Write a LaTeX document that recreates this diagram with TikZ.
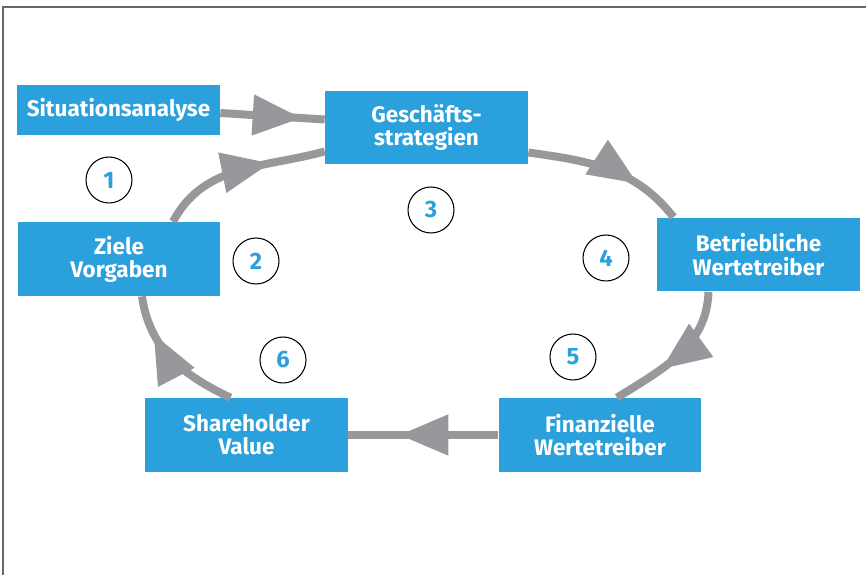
\documentclass[tikz,border=0pt]{standalone}
\usepackage{fontspec}
\setmainfont{Fira Sans}
\usetikzlibrary{arrows.meta,decorations.markings}
\definecolor{boxblue}{RGB}{42,160,221}
\definecolor{arrowgray}{RGB}{152,152,156}
\definecolor{framegray}{RGB}{110,100,100}
\begin{document}
\begin{tikzpicture}[x=0.02cm,y=0.02cm,
  box/.style={fill=boxblue, text=white, font=\bfseries\fontsize{12.8}{13.2}\selectfont,
    align=center, minimum width=4.06cm, minimum height=1.48cm, inner sep=0pt},
  num/.style={draw, circle, line width=0.6pt, minimum size=0.92cm, inner sep=0pt,
    text=boxblue, font=\bfseries\fontsize{13.5}{14}\selectfont},
  cyc/.style={draw=arrowgray, line width=0.16cm, postaction={decorate},
    decoration={markings, mark=at position #1 with
      {\arrow[arrowgray]{Triangle[length=0.98cm, width=0.78cm]}}}},
  cyc/.default=0.7]
\useasboundingbox (0,0) rectangle (866,575);
\draw[framegray, line width=1.2pt] (3,0) -- (3,568) -- (866,568);

\node (sit) at (118.5,465) [box, minimum height=1cm] {Situationsanalyse};
\node (ges) at (426.5,447.5) [box] {Geschäfts-\\strategien};
\node (ziele) at (119,316) [box] {Ziele\\Vorgaben};
\node (betr) at (758.5,320.5) [box] {Betriebliche\\Wertetreiber};
\node (share) at (246.5,140) [box] {Shareholder\\Value};
\node (fin) at (600,140) [box] {Finanzielle\\Wertetreiber};

\node (c1) at (109,395) [num] {1};
\node (c2) at (256,314) [num] {2};
\node (c3) at (431,365) [num] {3};
\node (c4) at (606,317) [num] {4};
\node (c5) at (573,218) [num] {5};
\node (c6) at (283,215) [num] {6};

\draw[cyc=0.78] ([shift={(0,-3)}]sit.east) to ([shift={(0,8)}]ges.west);
\draw[cyc=0.68] ([shift={(54,0)}]ziele.north) to[out=62,in=195] ([shift={(0,-24)}]ges.west);
\draw[cyc=0.70] ([shift={(0,-25)}]ges.east) to[out=-8,in=128] ([shift={(-85,0)}]betr.north);
\draw[cyc=0.64] ([shift={(-50,0)}]betr.south) to[out=-92,in=32] ([shift={(17,0)}]fin.north);
\draw[cyc=0.66] (fin.west) to (share.east);
\draw[cyc=0.72] ([shift={(-16,0)}]share.north) to[out=155,in=-82] ([shift={(23,0)}]ziele.south);
\end{tikzpicture}
\end{document}
